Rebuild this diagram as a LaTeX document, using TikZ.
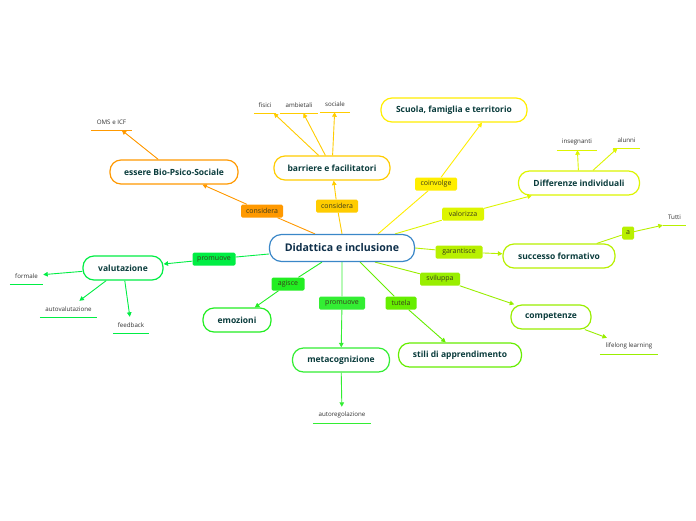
\documentclass[tikz,border=0pt]{standalone}
\usepackage{fontspec}
\setmainfont{Open Sans}
\usetikzlibrary{arrows.meta}
\pgfdeclarelayer{bg}
\pgfsetlayers{bg,main}
\definecolor{cOr}{HTML}{FF9900}
\definecolor{cYo}{HTML}{FFCC00}
\definecolor{cYe}{HTML}{FFEE00}
\definecolor{cLy}{HTML}{DDF500}
\definecolor{cLg}{HTML}{B8F000}
\definecolor{cG1}{HTML}{99EE00}
\definecolor{cG2}{HTML}{66EE00}
\definecolor{cG3}{HTML}{33EE33}
\definecolor{cG4}{HTML}{22EE22}
\definecolor{cG5}{HTML}{00EE44}
\definecolor{cBlue}{HTML}{3A87C8}
\definecolor{tmain}{HTML}{0E2F4A}
\definecolor{ttopic}{HTML}{0A3C3C}
\definecolor{tlab}{HTML}{3A3A1A}
\definecolor{tleaf}{HTML}{333333}
\tikzset{
  topic/.style={draw=#1, line width=1.2pt, fill=white, rounded corners=11pt,
    minimum height=24, inner sep=0pt, text=ttopic,
    font=\bfseries\fontsize{8.5}{10}\selectfont},
  lab/.style={fill=#1, rounded corners=1.5pt, minimum height=13, inner sep=0pt,
    text=tlab, font=\fontsize{7}{8}\selectfont},
  leaf/.style={minimum height=16, inner sep=0pt, text=tleaf,
    font=\fontsize{6.2}{7}\selectfont},
  conn/.style={draw=#1, line width=0.9pt},
  arr/.style={conn=#1, -{Triangle[length=4.5pt,width=4.5pt]}},
  uline/.style={draw=#1, line width=1.3pt}
}
\begin{document}
\begin{tikzpicture}[x=1pt,y=-1pt]
\useasboundingbox (0,0) rectangle (696,520);
\begin{pgfonlayer}{bg}
\fill[white] (0,0) rectangle (696,520);
\end{pgfonlayer}
% central
\node[draw=cBlue, line width=1.2pt, fill=white, rounded corners=12pt, minimum width=145,
  minimum height=27, inner sep=0pt, text=tmain,
  font=\bfseries\fontsize{10.6}{12}\selectfont] (c) at (342,248) {Didattica e inclusione};
% topics
\node[topic=cOr, minimum width=128] (bio) at (174,172) {essere Bio-Psico-Sociale};
\node[topic=cYo, minimum width=116] (bar) at (332,168) {barriere e facilitatori};
\node[topic=cYe, minimum width=146] (scu) at (454,110) {Scuola, famiglia e territorio};
\node[topic=cLy, minimum width=121] (dif) at (579,183) {Differenze individuali};
\node[topic=cLg, minimum width=112] (suc) at (559,256) {successo formativo};
\node[topic=cG1, minimum width=80] (com) at (551,317) {competenze};
\node[topic=cG2, minimum width=123] (sti) at (460,355) {stili di apprendimento};
\node[topic=cG3, minimum width=97] (met) at (341,360) {metacognizione};
\node[topic=cG4, minimum width=68] (emo) at (237,320) {emozioni};
\node[topic=cG5, minimum width=80] (val) at (123,268) {valutazione};
% labels
\node[lab=cOr, minimum width=42] (l1) at (262,211) {considera};
\node[lab=cYo, minimum width=42] (l2) at (337,206) {considera};
\node[lab=cYe, minimum width=42] (l3) at (436,184) {coinvolge};
\node[lab=cLy, minimum width=42] (l4) at (463,214) {valorizza};
\node[lab=cLg, minimum width=47] (l5) at (459,252) {garantisce};
\node[lab=cG1, minimum width=40] (l6) at (440,279) {sviluppa};
\node[lab=cG2, minimum width=31] (l7) at (401,303) {tutela};
\node[lab=cG3, minimum width=46] (l8) at (342,303) {promuove};
\node[lab=cG4, minimum width=33] (l9) at (288,284) {agisce};
\node[lab=cG5, minimum width=43] (l10) at (214,259) {promuove};
\node[lab=cLg, minimum width=12] (la) at (628,233) {a};
% leaves
\node[leaf, minimum width=41] (oms) at (111.5,122) {OMS e ICF};
\node[leaf, minimum width=22] (fis) at (265,105) {fisici};
\node[leaf, minimum width=38] (amb) at (299,105) {ambietali};
\node[leaf, minimum width=30] (soc) at (335,104) {sociale};
\node[leaf, minimum width=40] (ins) at (577,142) {insegnanti};
\node[leaf, minimum width=27] (alu) at (626.5,140) {alunni};
\node[leaf, minimum width=23] (tut) at (674.5,217) {Tutti};
\node[leaf, minimum width=58] (lif) at (629,346) {lifelong learning};
\node[leaf, minimum width=58] (aut) at (342,415) {autoregolazione};
\node[leaf, minimum width=33] (for) at (26.5,276) {formale};
\node[leaf, minimum width=57] (auv) at (68.5,309) {autovalutazione};
\node[leaf, minimum width=36] (fee) at (131,325) {feedback};
% underlines
\draw[uline=cOr] (oms.south west) -- (oms.south east);
\draw[uline=cYo] (fis.south west) -- (fis.south east);
\draw[uline=cYo] (amb.south west) -- (amb.south east);
\draw[uline=cYo] (soc.south west) -- (soc.south east);
\draw[uline=cLy] (ins.south west) -- (ins.south east);
\draw[uline=cLy] (alu.south west) -- (alu.south east);
\draw[uline=cLg] (tut.south west) -- (tut.south east);
\draw[uline=cG1] (lif.south west) -- (lif.south east);
\draw[uline=cG3] (aut.south west) -- (aut.south east);
\draw[uline=cG5] (for.south west) -- (for.south east);
\draw[uline=cG5] (auv.south west) -- (auv.south east);
\draw[uline=cG5] (fee.south west) -- (fee.south east);
% connectors
\begin{pgfonlayer}{bg}
\draw[arr=cOr] ([xshift=-27pt]c.north) -- (l1) -- (bio);
\draw[arr=cYo] (c.north) -- (l2) -- (bar);
\draw[arr=cYe] ([xshift=36pt]c.north) -- (l3) -- ([xshift=28pt]scu.south);
\draw[arr=cLy] ([xshift=53pt]c.north) -- (l4) -- (dif);
\draw[arr=cLg] (c.east) -- (l5) -- (suc);
\draw[arr=cG1] ([xshift=33pt]c.south) -- (l6) -- (com);
\draw[arr=cG2] ([xshift=18pt]c.south) -- (l7) -- (sti);
\draw[arr=cG3] (c.south) -- (l8) -- (met);
\draw[arr=cG4] ([xshift=-20pt]c.south) -- (l9) -- (emo);
\draw[arr=cG5] ([yshift=-6pt]c.west) -- (l10) -- (val);
\draw[arr=cOr] (bio) -- (oms);
\draw[arr=cYo] (bar) -- (fis);
\draw[arr=cYo] (bar) -- (amb);
\draw[arr=cYo] (bar) -- (soc);
\draw[arr=cLy] (dif) -- (ins);
\draw[arr=cLy] (dif) -- (alu);
\draw[arr=cLg] (suc) -- (la) -- (tut.south west);
\draw[arr=cG1] (com) -- (lif);
\draw[arr=cG3] (met) -- (aut);
\draw[arr=cG5] (val) -- (for);
\draw[arr=cG5] (val) -- (auv);
\draw[arr=cG5] (val) -- (fee);
\end{pgfonlayer}
\end{tikzpicture}
\end{document}
